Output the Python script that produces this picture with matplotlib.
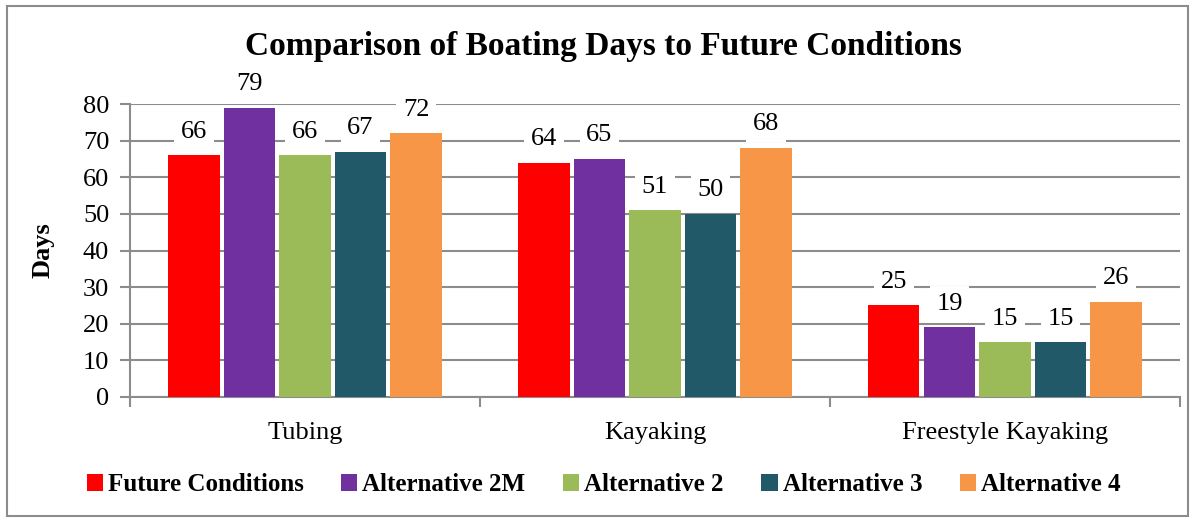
import numpy as np
import matplotlib.pyplot as plt
from matplotlib.patches import Rectangle

plt.rcParams['font.family'] = ['Liberation Serif', 'DejaVu Serif']

activities = ["Tubing", "Kayaking", "Freestyle Kayaking"]
scenarios = ["Future Conditions", "Alternative 2M", "Alternative 2", "Alternative 3", "Alternative 4"]
future_conditions = [66, 64, 25]
alternative_2m = [79, 65, 19]
alternative_2 = [66, 51, 15]
alternative_3 = [67, 50, 15]
alternative_4 = [72, 68, 26]
colors = ["#FF0000", "#7030A0", "#9BBB59", "#215968", "#F79646"]

series = [future_conditions, alternative_2m, alternative_2, alternative_3, alternative_4]

fig = plt.figure(figsize=(11.95, 5.18), dpi=100)
ax = fig.add_axes([0.1088, 0.2336, 0.8786, 0.5656])

# frame around the whole chart area
fig.patches.append(Rectangle((0.006, 0.004), 0.988, 0.984, transform=fig.transFigure,
                             fill=False, edgecolor='#8c8c8c', linewidth=1.5))

x = np.arange(len(activities))
width = 0.146
step = 0.1586
for i, (name, vals, c) in enumerate(zip(scenarios, series, colors)):
    pos = x + (i - 2) * step
    bars = ax.bar(pos, vals, width, color=c, label=name, zorder=3)
    for b, v in zip(bars, vals):
        ax.annotate(str(v), (b.get_x() + b.get_width() / 2, v), xytext=(0, 9),
                    textcoords='offset points', ha='center', va='bottom', fontsize=19,
                    bbox=dict(boxstyle='square,pad=0.25', fc='white', ec='none'),
                    zorder=4, annotation_clip=False)

ax.set_xlim(-0.5, 2.5)
ax.set_ylim(0, 80)
ax.set_yticks(range(0, 81, 10))
ax.set_xticks(x)
ax.set_xticklabels(activities, fontsize=19)
ax.set_xticks([-0.5, 0.5, 1.5, 2.5], minor=True)
ax.tick_params(axis='x', which='major', length=0, pad=18)
ax.tick_params(axis='x', which='minor', length=7, width=1.5, color='#8c8c8c', direction='out')
ax.tick_params(axis='y', labelsize=19, length=7, width=1.5, color='#8c8c8c', pad=8)
ax.grid(axis='y', color='#8c8c8c', linewidth=1.5, zorder=0)
for side in ['top', 'right']:
    ax.spines[side].set_visible(False)
for side in ['left', 'bottom']:
    ax.spines[side].set_color('#8c8c8c')
    ax.spines[side].set_linewidth(1.5)

ax.set_ylabel("Days", fontsize=19, fontweight='bold', labelpad=20)
fig.suptitle("Comparison of Boating Days to Future Conditions", fontsize=24,
             fontweight='bold', x=0.505, y=0.91, va='center')

fig.legend(loc='center', bbox_to_anchor=(0.505, 0.064), ncol=5, frameon=False,
           prop={'size': 18, 'weight': 'bold'}, handlelength=0.65, handleheight=0.65,
           handletextpad=0.2, columnspacing=1.5)

fig.savefig("out.png", dpi=100)
